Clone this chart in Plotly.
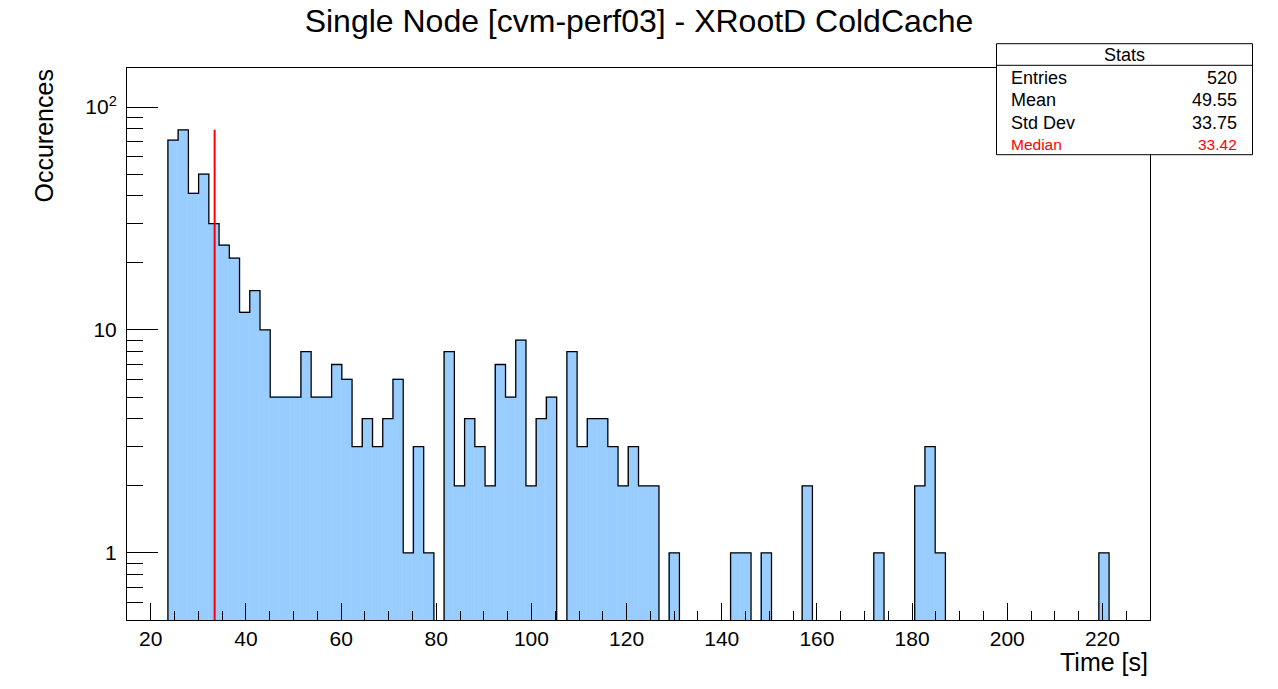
import plotly.graph_objs as go

# histogram: 100 bins from 15 to 230 s
x_min = 15.0
x_max = 230.0
n_bins = 100
bin_counts = [0, 0, 0, 0,
              71, 79, 41, 50, 30, 24, 21, 12, 15, 10,
              5, 5, 5, 8, 5, 5, 7, 6, 3, 4, 3, 4, 6, 1, 3, 1, 0, 8,
              2, 4, 3, 2, 7, 5, 9, 2, 4, 5, 0, 8, 3, 4, 4, 3, 2, 3, 2, 2, 0, 1,
              0, 0, 0, 0, 0, 1, 1, 0, 1, 0, 0, 0, 2, 0, 0, 0, 0, 0, 0, 1,
              0, 0, 0, 2, 3, 1, 0, 0, 0, 0, 0, 0, 0, 0, 0, 0, 0, 0, 0, 0,
              0, 1, 0, 0, 0, 0]

stat_labels = ["Entries", "Mean", "Std Dev", "Median"]
stat_values = ["520", "49.55", "33.75", "33.42"]
median = 33.42

y_tick_vals = [1, 10, 100]
y_tick_text = ["1", "10", "10<sup>2</sup>"]

W, H = 1278, 689
OFF = 8  # page body margin
L, R, T, B = 127 - OFF, 1150 - OFF, 68 - OFF, 620 - OFF
FONT = "Liberation Sans"

bw = (x_max - x_min) / n_bins
centers = [x_min + bw * (i + 0.5) for i in range(n_bins)]
edges = [x_min + bw * i for i in range(n_bins + 1)]
y_low = 0.5

fig = go.Figure()

# filled bins
fig.add_trace(go.Bar(
    x=centers, y=[c if c > 0 else None for c in bin_counts], width=bw,
    marker=dict(color="#99ccff", line=dict(color="#99ccff", width=0.6)),
    hoverinfo="skip", showlegend=False))

# outline
step_y = [c if c > 0 else 0.05 for c in bin_counts]
fig.add_trace(go.Scatter(
    x=edges, y=step_y + [step_y[-1]], mode="lines", line_shape="hv",
    line=dict(color="black", width=1.3), hoverinfo="skip", showlegend=False))

# median line
fig.add_trace(go.Scatter(
    x=[median, median], y=[y_low, max(bin_counts)], mode="lines",
    line=dict(color="red", width=2), hoverinfo="skip", showlegend=False))


# reference pixel -> paper coords
def px_x(p):
    return (p - OFF - L) / (R - L)


def px_y(p):
    return (B - (p - OFF)) / (B - T)


# stats box
fig.add_shape(type="rect", xref="paper", yref="paper",
              x0=px_x(996.5), x1=px_x(1252.5), y0=px_y(154.7), y1=px_y(43.7),
              fillcolor="white", line=dict(color="black", width=1), layer="above")
fig.add_shape(type="line", xref="paper", yref="paper",
              x0=px_x(996.5), x1=px_x(1252.5), y0=px_y(65.3), y1=px_y(65.3),
              line=dict(color="black", width=1), layer="above")
fig.add_annotation(text="Stats", xref="paper", yref="paper",
                   x=px_x(1124.5), y=px_y(55.5), xanchor="center", yanchor="middle",
                   showarrow=False, font=dict(family=FONT, size=18, color="black"))
row_y = [77.5, 100, 122.5, 145]
for i, (lab, val) in enumerate(zip(stat_labels, stat_values)):
    col = "red" if lab == "Median" else "black"
    sz = 15.5 if lab == "Median" else 18
    fig.add_annotation(text=lab, xref="paper", yref="paper",
                       x=px_x(1009), y=px_y(row_y[i]), xanchor="left", yanchor="middle",
                       showarrow=False, font=dict(family=FONT, size=sz, color=col))
    fig.add_annotation(text=val, xref="paper", yref="paper",
                       x=px_x(1239), y=px_y(row_y[i]), xanchor="right", yanchor="middle",
                       showarrow=False, font=dict(family=FONT, size=sz, color=col))

# axis titles
fig.add_annotation(text="Occurences", xref="paper", yref="paper",
                   x=px_x(43), y=1, xanchor="center", yanchor="top", textangle=-90,
                   showarrow=False, font=dict(family=FONT, size=25, color="black"))
fig.add_annotation(text="Time [s]", xref="paper", yref="paper",
                   x=1, y=px_y(662), xanchor="right", yanchor="middle",
                   showarrow=False, font=dict(family=FONT, size=25, color="black"))

minor_y = [m * d for d in (0.1, 1, 10) for m in range(2, 10) if 0.5 < m * d < 150]

fig.update_layout(
    width=W, height=H,
    margin=dict(l=L, r=W - R, t=T, b=H - B, pad=0),
    paper_bgcolor="white", plot_bgcolor="white",
    bargap=0, barmode="overlay",
    font=dict(family=FONT, color="black"),
    title=dict(text="Single Node [cvm-perf03] - XRootD ColdCache",
               x=px_x(639) * (R - L) / W + L / W, xanchor="center",
               y=1 - (21 - OFF) / H, yanchor="middle",
               font=dict(family=FONT, size=32, color="black")),
    xaxis=dict(range=[x_min, x_max], showgrid=False, zeroline=False,
               showline=True, linecolor="black", linewidth=1, mirror=True,
               ticks="inside", ticklen=17, tickwidth=1, tickcolor="black",
               tick0=0, dtick=20, tickfont=dict(family=FONT, size=21),
               minor=dict(ticks="inside", ticklen=9, tickwidth=1, tickcolor="black",
                          tick0=0, dtick=5)),
    yaxis=dict(type="log", range=[-0.30103, 2.1751], showgrid=False, zeroline=False,
               showline=True, linecolor="black", linewidth=1, mirror=True,
               ticks="inside", ticklen=31, tickwidth=1, tickcolor="black",
               tickmode="array", tickvals=y_tick_vals, ticktext=y_tick_text,
               tickfont=dict(family=FONT, size=21), ticklabelstandoff=5,
               minor=dict(ticks="inside", ticklen=16, tickwidth=1, tickcolor="black",
                          tickmode="array", tickvals=minor_y)),
)

fig.write_html("out.html")
